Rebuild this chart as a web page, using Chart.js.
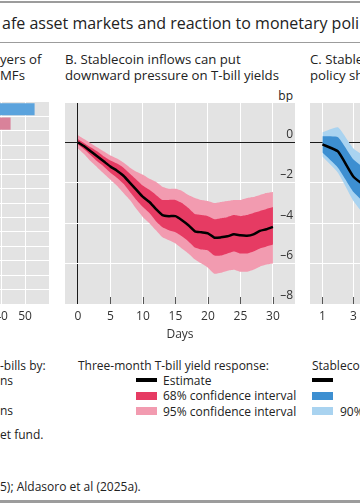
<!DOCTYPE html>
<html lang="en">
<head>
<meta charset="UTF-8">
<title>Stablecoin inflows and T-bill yields</title>
<script src="https://cdn.jsdelivr.net/npm/chart.js@4.4.1/dist/chart.umd.min.js"></script>
<style>
  html, body { margin: 0; padding: 0; }
  body { width: 360px; height: 504px; position: relative; overflow: hidden; background: #fff;
         font-family: "Open Sans", sans-serif; color: #222; }
  .t { position: absolute; white-space: nowrap; }
  .rule { position: absolute; left: 0; width: 360px; background: #9c9c9c; }
  .sw { position: absolute; width: 21px; }
  canvas { position: absolute; }
  .ptitle { font-size: 13.2px; line-height: 16px; }
  .leg { font-size: 12px; line-height: 16px; }
</style>
</head>
<body>

<div class="rule" style="top:1px;height:2px"></div>
<div class="t" style="left:2px;top:12px;font-size:16px;line-height:22px">afe asset markets and reaction to monetary poli</div>
<div class="rule" style="top:42px;height:1px"></div>

<!-- panel titles -->
<div class="t ptitle" style="left:0;top:51px">yers of<br>MFs</div>
<div class="t ptitle" style="left:65px;top:51px">B. Stablecoin inflows can put<br>downward pressure on T-bill yields</div>
<div class="t ptitle" style="left:310px;top:51px">C. Stable<br>policy sh</div>
<div class="t leg" style="right:67px;top:88px">bp</div>

<canvas id="chartA" width="144" height="244" style="left:-95px;top:102px"></canvas>
<canvas id="chartB" width="230" height="244" style="left:65px;top:102px"></canvas>
<canvas id="chartC" width="191" height="244" style="left:310px;top:102px"></canvas>

<!-- legends -->
<div class="t leg" style="left:0;top:358px">-bills by:</div>
<div class="t leg" style="left:0;top:373px">ns</div>
<div class="t leg" style="left:0;top:403px">ns</div>
<div class="t leg" style="left:0;top:427px">et fund.</div>

<div class="t leg" style="left:78px;top:358px">Three-month T-bill yield response:</div>
<div class="sw" style="left:136px;top:378px;height:4px;background:#000"></div>
<div class="t leg" style="left:163px;top:373px">Estimate</div>
<div class="sw" style="left:136px;top:392px;height:8px;background:#e63b63"></div>
<div class="t leg" style="left:163px;top:388px">68% confidence interval</div>
<div class="sw" style="left:136px;top:407px;height:8px;background:#f29bb0"></div>
<div class="t leg" style="left:163px;top:404px">95% confidence interval</div>

<div class="t leg" style="left:312px;top:358px">Stableco</div>
<div class="sw" style="left:312px;top:378px;height:4px;background:#000"></div>
<div class="sw" style="left:312px;top:392px;height:8px;background:#3d8fd1"></div>
<div class="sw" style="left:312px;top:407px;height:8px;background:#a9d3f0"></div>
<div class="t leg" style="left:340px;top:404px">90%</div>

<div class="t leg" style="left:0;top:479px">5); Aldasoro et al (2025a).</div>
<div class="rule" style="top:500px;height:3px"></div>

<script>
// ---- panel B data (bp, days after inflow) ----
const days = [0, 1, 2, 3, 4, 5, 6, 7, 8, 9, 10, 11, 12, 13, 14, 15,
              16, 17, 18, 19, 20, 21, 22, 23, 24, 25, 26, 27, 28, 29, 30];
const estimate = [0, -0.2, -0.45, -0.7, -0.95, -1.2, -1.4, -1.65, -2.0, -2.35, -2.7, -2.95, -3.3, -3.6, -3.65, -3.65,
                  -3.85, -4.1, -4.4, -4.45, -4.5, -4.72, -4.7, -4.65, -4.55, -4.6, -4.62, -4.55, -4.38, -4.3, -4.18];
const ci68Upper = [0.15, -0.05, -0.25, -0.45, -0.7, -0.9, -1.05, -1.25, -1.55, -1.85, -2.15, -2.35, -2.6, -2.85, -2.85, -2.85,
                   -3.0, -3.25, -3.55, -3.6, -3.65, -3.8, -3.75, -3.7, -3.6, -3.65, -3.6, -3.5, -3.4, -3.3, -3.2];
const ci68Lower = [-0.1, -0.35, -0.65, -0.95, -1.2, -1.5, -1.75, -2.05, -2.45, -2.85, -3.2, -3.5, -3.9, -4.2, -4.35, -4.45,
                   -4.65, -4.9, -5.2, -5.3, -5.35, -5.6, -5.6, -5.5, -5.4, -5.5, -5.5, -5.4, -5.25, -5.15, -5.05];
const ci95Upper = [0.35, 0.15, -0.05, -0.25, -0.45, -0.65, -0.8, -1.0, -1.25, -1.45, -1.6, -1.8, -1.95, -2.2, -2.3, -2.3,
                   -2.4, -2.6, -2.75, -2.85, -2.9, -3.0, -2.95, -2.9, -2.85, -2.85, -2.75, -2.7, -2.6, -2.5, -2.45];
const ci95Lower = [-0.3, -0.6, -0.95, -1.25, -1.55, -1.85, -2.15, -2.5, -2.85, -3.3, -3.7, -4.0, -4.35, -4.7, -4.85, -5.0,
                   -5.25, -5.5, -5.8, -6.0, -6.2, -6.5, -6.45, -6.35, -6.3, -6.4, -6.4, -6.3, -6.15, -6.05, -6.0];
const dayTicks = [0, 5, 10, 15, 20, 25, 30];
const bpTicks = [-8, -6, -4, -2, 0, 2];

// ---- panel C (only the first periods are inside the crop) ----
const periodsC = [1, 2, 3, 4];
const estimateC = [-0.1, -0.45, -1.7, -2.3];
const innerUpperC = [0.3, 0.25, -0.85, -1.45];
const innerLowerC = [-0.5, -1.25, -2.45, -3.2];
const outerUpperC = [0.5, 0.75, -0.3, -0.8];
const outerLowerC = [-0.7, -1.5, -2.9, -3.9];
const periodTicksC = [1, 3, 5, 7, 9, 11];

// ---- panel A (only the two top bars reach into the crop) ----
const rowsA = ['r1', 'r2', 'r3', 'r4', 'r5', 'r6', 'r7', 'r8', 'r9', 'r10', 'r11', 'r12', 'r13', 'r14'];
const valuesA = [54, 44, null, null, null, null, null, null, null, null, null, null, null, null];
const coloursA = ['#5ba3dd', '#d9829a'];
const shareTicksA = [0, 10, 20, 30, 40, 50, 60];

const PLOT_GREY = '#e3e3e3';
const FONT = '"Open Sans", sans-serif';
Chart.defaults.font.family = FONT;
Chart.defaults.color = '#333';

const pts = (xs, ys) => xs.map((x, i) => ({x: x, y: ys[i]}));
const dash = v => v < 0 ? '\u2013' + Math.abs(v) : String(v);

const plotBg = {
  id: 'plotBg',
  beforeDraw(chart) {
    const a = chart.chartArea, ctx = chart.ctx;
    ctx.save();
    ctx.fillStyle = PLOT_GREY;
    ctx.fillRect(a.left, a.top, a.right - a.left, a.bottom - a.top);
    ctx.restore();
  }
};

// short tick marks pointing up into the plot
const innerTicks = {
  id: 'innerTicks',
  afterDatasetsDraw(chart) {
    const xs = chart.scales.x, a = chart.chartArea, ctx = chart.ctx;
    ctx.save();
    ctx.strokeStyle = '#555';
    ctx.lineWidth = 1;
    xs.ticks.forEach(t => {
      if (t.value === 0) return;
      const px = Math.round(xs.getPixelForValue(t.value)) + 0.5;
      ctx.beginPath();
      ctx.moveTo(px, a.bottom - 7);
      ctx.lineTo(px, a.bottom);
      ctx.stroke();
    });
    ctx.restore();
  }
};

function noPad(s) { s.paddingTop = 0; s.paddingBottom = 0; s.paddingLeft = 0; s.paddingRight = 0; }

function xAxis(min, max, tickVals, opts) {
  return Object.assign({
    type: 'linear', min: min, max: max,
    afterBuildTicks: s => { s.ticks = tickVals.map(v => ({value: v})); },
    afterFit: s => { s.height = 42; noPad(s); },
    grid: { color: c => c.tick && c.tick.value === 0 ? '#1a1a1a' : '#ffffff', lineWidth: 1, drawTicks: false },
    border: { display: false },
    ticks: { padding: 5, maxRotation: 0, autoSkip: false, font: { size: 12 }, color: '#333' }
  }, opts || {});
}

function yAxisBp(showLabels) {
  return {
    position: 'right', min: -8, max: 2,
    afterBuildTicks: s => { s.ticks = bpTicks.map(v => ({value: v})); },
    afterFit: s => { s.width = 0; noPad(s); },
    grid: { color: c => c.tick && c.tick.value === 0 ? '#1a1a1a' : '#ffffff', lineWidth: 1, drawTicks: false },
    border: { display: false },
    ticks: {
      display: showLabels, mirror: true, padding: -2, labelOffset: -8,
      font: { size: 12 }, color: '#333',
      callback: v => v === 2 ? '' : dash(v)
    }
  };
}

function bandSets(est, up68, lo68, up95, lo95, xs, cInner, cOuter) {
  return [
    { data: pts(xs, est), borderColor: '#000', borderWidth: 2.5, fill: false, order: 0 },
    { data: pts(xs, up68), borderWidth: 0, backgroundColor: cInner, fill: '+1', order: 1 },
    { data: pts(xs, lo68), borderWidth: 0, fill: false, order: 1 },
    { data: pts(xs, up95), borderWidth: 0, backgroundColor: cOuter, fill: '+1', order: 2 },
    { data: pts(xs, lo95), borderWidth: 0, fill: false, order: 2 }
  ];
}

const common = {
  responsive: false, animation: false, devicePixelRatio: 1,
  layout: { padding: 0, autoPadding: false },
  plugins: { legend: { display: false }, tooltip: { enabled: false } },
  elements: { point: { radius: 0 }, line: { tension: 0.15 } }
};

// Panel B
new Chart(document.getElementById('chartB'), {
  type: 'line',
  data: { datasets: bandSets(estimate, ci68Upper, ci68Lower, ci95Upper, ci95Lower, days, '#e63b63', '#f29bb0') },
  options: Object.assign({}, common, {
    scales: {
      x: xAxis(-2, 33.4, dayTicks, {
        title: { display: true, text: 'Days', font: { size: 12 }, color: '#333', padding: { top: 2, bottom: 4 } }
      }),
      y: yAxisBp(true)
    }
  }),
  plugins: [plotBg, innerTicks]
});

// Panel C (cropped at the right edge)
new Chart(document.getElementById('chartC'), {
  type: 'line',
  data: { datasets: bandSets(estimateC, innerUpperC, innerLowerC, outerUpperC, outerLowerC, periodsC, '#3d8fd1', '#a9d3f0') },
  options: Object.assign({}, common, {
    scales: { x: xAxis(0.2, 12.5, periodTicksC), y: yAxisBp(false) }
  }),
  plugins: [plotBg, innerTicks]
});

// Panel A (cropped at the left edge)
new Chart(document.getElementById('chartA'), {
  type: 'bar',
  data: {
    labels: rowsA,
    datasets: [{ data: valuesA, backgroundColor: coloursA, barPercentage: 0.88, categoryPercentage: 0.95 }]
  },
  options: Object.assign({}, common, {
    indexAxis: 'y',
    scales: {
      x: xAxis(0, 60, shareTicksA, { ticks: { padding: 5, maxRotation: 0, autoSkip: false, font: { size: 12 }, color: '#333',
                                              callback: v => v === 60 ? '' : v } }),
      y: {
        afterFit: s => { s.width = 0; noPad(s); },
        grid: { color: '#ffffff', lineWidth: 1, drawTicks: false },
        border: { display: false },
        ticks: { display: false }
      }
    }
  }),
  plugins: [plotBg]
});
</script>
</body>
</html>
